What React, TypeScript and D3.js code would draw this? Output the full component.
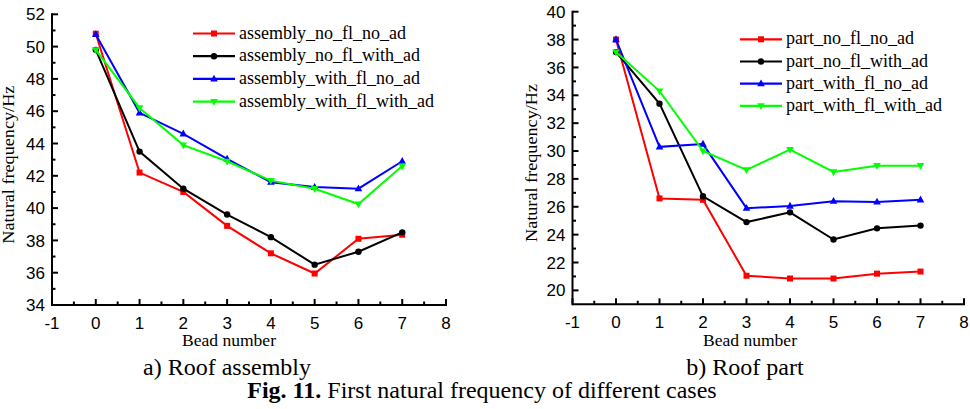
import React from "react";
import * as d3 from "d3";

const beads = [0, 1, 2, 3, 4, 5, 6, 7];

const assemblyNames = [
  "assembly_no_fl_no_ad",
  "assembly_no_fl_with_ad",
  "assembly_with_fl_no_ad",
  "assembly_with_fl_with_ad",
];
const assemblyNoFlNoAd = [50.8, 42.2, 41.0, 38.9, 37.2, 35.95, 38.1, 38.35];
const assemblyNoFlWithAd = [49.8, 43.5, 41.2, 39.6, 38.2, 36.5, 37.3, 38.5];
const assemblyWithFlNoAd = [50.75, 45.9, 44.6, 43.05, 41.6, 41.3, 41.2, 42.9];
const assemblyWithFlWithAd = [49.8, 46.2, 43.9, 42.9, 41.7, 41.2, 40.25, 42.6];

const partNames = [
  "part_no_fl_no_ad",
  "part_no_fl_with_ad",
  "part_with_fl_no_ad",
  "part_with_fl_with_ad",
];
const partNoFlNoAd = [38.0, 26.6, 26.5, 21.05, 20.85, 20.85, 21.2, 21.35];
const partNoFlWithAd = [37.1, 33.4, 26.75, 24.9, 25.6, 23.65, 24.45, 24.65];
const partWithFlNoAd = [38.0, 30.3, 30.5, 25.9, 26.05, 26.4, 26.35, 26.5];
const partWithFlWithAd = [37.1, 34.3, 30.0, 28.65, 30.1, 28.5, 28.95, 28.95];

const xTicks = [-1, 0, 1, 2, 3, 4, 5, 6, 7, 8];
const assemblyYTicks = [34, 36, 38, 40, 42, 44, 46, 48, 50, 52];
const partYTicks = [20, 22, 24, 26, 28, 30, 32, 34, 36, 38, 40];

const colors = ["#ff0000", "#000000", "#0000ff", "#00ff00"];
const shapes = ["square", "circle", "triUp", "triDown"];

function Marker({ shape, x, y, color }: any) {
  if (shape === "square") {
    return <rect x={x - 3} y={y - 3} width={6} height={6} fill={color} />;
  }
  if (shape === "circle") {
    return <circle cx={x} cy={y} r={3.2} fill={color} />;
  }
  if (shape === "triUp") {
    return <path d={`M${x},${y - 4.2}L${x + 3.8},${y + 2.6}L${x - 3.8},${y + 2.6}Z`} fill={color} />;
  }
  return <path d={`M${x},${y + 4.2}L${x + 3.8},${y - 2.6}L${x - 3.8},${y - 2.6}Z`} fill={color} />;
}

function Chart({
  left,
  right,
  top,
  bottom,
  yMin,
  yMax,
  yTicks,
  series,
  names,
  legendX,
  legendY,
  legendGap,
  yLabelX,
  xLabelX,
}: any) {
  const x = d3.scaleLinear().domain([-1, 8]).range([left, right]);
  const y = d3.scaleLinear().domain([yMin, yMax]).range([bottom, top]);
  const line = d3
    .line<number>()
    .x((_, i) => x(beads[i]))
    .y((d) => y(d));
  const xMinor = d3.range(-0.5, 8, 1);
  const yMinor = d3.range(yMin + (yMin % 2 === 0 ? 1 : 0), yMax, 2).filter((v) => v > yMin);
  const sans = "'Liberation Sans', Arial, sans-serif";
  const serif = "'Liberation Serif', 'Times New Roman', serif";
  return (
    <g>
      {series.map((s: number[], i: number) => (
        <g key={i}>
          <path d={line(s) || ""} fill="none" stroke={colors[i]} strokeWidth={2} />
          {s.map((v, j) => (
            <Marker key={j} shape={shapes[i]} x={x(beads[j])} y={y(v)} color={colors[i]} />
          ))}
        </g>
      ))}
      {/* axes */}
      <line x1={left} x2={right + 1} y1={bottom} y2={bottom} stroke="#000" strokeWidth={2} />
      <line x1={left} x2={left} y1={top - 1} y2={bottom + 1} stroke="#000" strokeWidth={2} />
      {xTicks.map((t) => (
        <g key={"xt" + t}>
          <line x1={x(t)} x2={x(t)} y1={bottom} y2={bottom - 6} stroke="#000" strokeWidth={2} />
          <text x={x(t)} y={bottom + 24} textAnchor="middle" fontFamily={sans} fontSize={17}>
            {t}
          </text>
        </g>
      ))}
      {xMinor.map((t) => (
        <line key={"xm" + t} x1={x(t)} x2={x(t)} y1={bottom} y2={bottom - 3.5} stroke="#000" strokeWidth={2} />
      ))}
      {yTicks.map((t: number) => (
        <g key={"yt" + t}>
          <line x1={left} x2={left + 6} y1={y(t)} y2={y(t)} stroke="#000" strokeWidth={2} />
          <text x={left - 7} y={y(t)} dy="0.36em" textAnchor="end" fontFamily={sans} fontSize={17}>
            {t}
          </text>
        </g>
      ))}
      {yMinor.map((t: number) => (
        <line key={"ym" + t} x1={left} x2={left + 3.5} y1={y(t)} y2={y(t)} stroke="#000" strokeWidth={2} />
      ))}
      {/* axis titles */}
      <text
        transform={`translate(${yLabelX},${(top + bottom) / 2 + 5}) rotate(-90)`}
        textAnchor="middle"
        fontFamily={serif}
        fontSize={16}
        textLength={158}
        lengthAdjust="spacingAndGlyphs"
      >
        Natural frequency/Hz
      </text>
      <text
        x={xLabelX}
        y={346}
        textAnchor="middle"
        fontFamily={serif}
        fontSize={16}
        textLength={94}
        lengthAdjust="spacingAndGlyphs"
      >
        Bead number
      </text>
      {/* legend */}
      {names.map((n: string, i: number) => {
        const ly = legendY + i * legendGap;
        return (
          <g key={"lg" + i}>
            <line x1={legendX} x2={legendX + 42} y1={ly} y2={ly} stroke={colors[i]} strokeWidth={2.2} />
            <Marker shape={shapes[i]} x={legendX + 21} y={ly} color={colors[i]} />
            <text x={legendX + 46} y={ly + 5} fontFamily={serif} fontSize={18}>
              {n}
            </text>
          </g>
        );
      })}
    </g>
  );
}

export default function App() {
  const serif = "'Liberation Serif', 'Times New Roman', serif";
  return (
    <svg width={970} height={409} style={{ position: "absolute", left: 0, top: 0, background: "#fff" }}>
      <rect x={0} y={0} width={970} height={409} fill="#fff" />
      <Chart
        left={52}
        right={446}
        top={14.3}
        bottom={305}
        yMin={34}
        yMax={52}
        yTicks={assemblyYTicks}
        series={[assemblyNoFlNoAd, assemblyNoFlWithAd, assemblyWithFlNoAd, assemblyWithFlWithAd]}
        names={assemblyNames}
        legendX={193}
        legendY={33.5}
        legendGap={22.7}
        yLabelX={14}
        xLabelX={229}
      />
      <Chart
        left={572.5}
        right={964}
        top={11.7}
        bottom={304.3}
        yMin={19}
        yMax={40}
        yTicks={partYTicks}
        series={[partNoFlNoAd, partNoFlWithAd, partWithFlNoAd, partWithFlWithAd]}
        names={partNames}
        legendX={740}
        legendY={39.3}
        legendGap={22.2}
        yLabelX={537}
        xLabelX={750}
      />
      <text x={227} y={375} textAnchor="middle" fontFamily={serif} fontSize={24}>
        a) Roof assembly
      </text>
      <text x={745} y={375} textAnchor="middle" fontFamily={serif} fontSize={24}>
        b) Roof part
      </text>
      <text x={482} y={398} textAnchor="middle" fontFamily={serif} fontSize={24}>
        <tspan fontWeight="bold">Fig. 11.</tspan> First natural frequency of different cases
      </text>
    </svg>
  );
}
